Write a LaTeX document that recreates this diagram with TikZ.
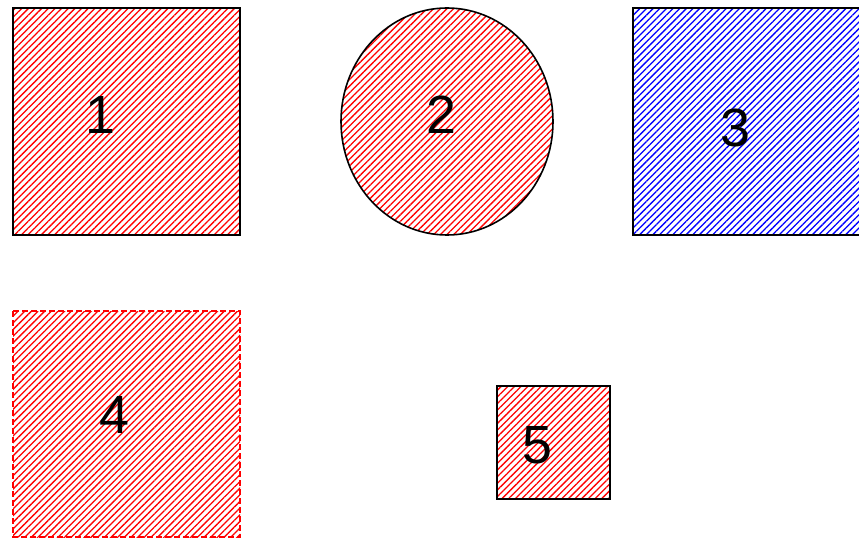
\documentclass[tikz,border=0pt]{standalone}
\usepackage{fontspec}
\setmainfont{Liberation Sans}
\usetikzlibrary{patterns.meta,shapes.geometric}
\begin{document}
\begin{tikzpicture}[x=1bp,y=-1bp,
  hatchred/.style={pattern={Lines[angle=45,distance=4.7bp,line width=1.3bp]},pattern color=red},
  hatchblue/.style={pattern={Lines[angle=45,distance=4.7bp,line width=1.3bp]},pattern color=blue},
  shapebox/.style={draw=black,line width=1.6bp,inner sep=0pt,outer sep=0pt},
  digit/.style={font=\fontsize{54}{60}\selectfont,inner sep=0pt,text=black}]
\useasboundingbox (0,0) rectangle (859,542);
\begin{scope}
\clip (0,0) rectangle (859,542);
\draw[shapebox,hatchred] (13,8) rectangle (240,235);
\node[shapebox,hatchred,ellipse,minimum width=212bp,minimum height=227bp] (e2) at (447,121.5) {};
\draw[shapebox,hatchblue] (633,8) rectangle (860,235);
\draw[shapebox,draw=red,hatchred,dash pattern=on 6bp off 3bp] (13,311) rectangle (240,537);
\draw[shapebox,hatchred] (497,386) rectangle (610,499);
\end{scope}
\node[digit] (l1) at (100,115) {1};
\node[digit] (l2) at (441,115) {2};
\node[digit] (l3) at (735,128) {3};
\node[digit] (l4) at (114,415) {4};
\node[digit] (l5) at (537,445) {5};
\end{tikzpicture}
\end{document}
